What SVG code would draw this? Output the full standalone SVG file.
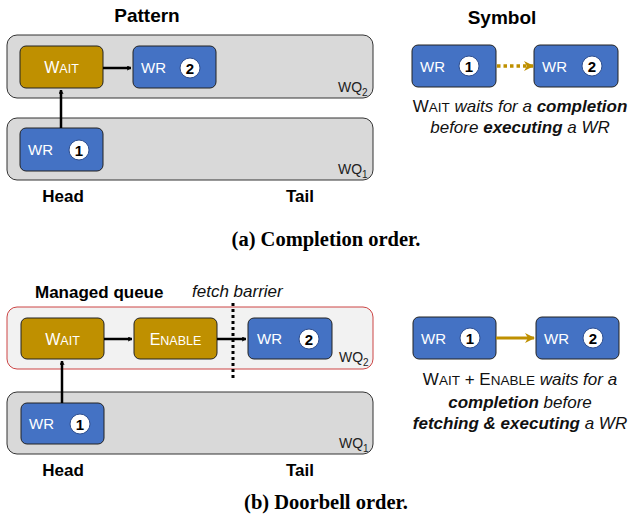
<svg xmlns="http://www.w3.org/2000/svg" width="630" height="519" viewBox="0 0 630 519">
<defs>
<marker id="ah" viewBox="0 0 10 10" refX="9" refY="5" markerWidth="5" markerHeight="5" orient="auto" markerUnits="userSpaceOnUse">
<path d="M1,1 L9,5 L1,9" fill="none" stroke="#000" stroke-width="2"/>
</marker>
<marker id="ahg" viewBox="0 0 10 10" refX="9" refY="5" markerWidth="10" markerHeight="12" orient="auto" markerUnits="userSpaceOnUse">
<path d="M0,0 L10,5 L0,10 L3,5 Z" fill="#bf9000"/>
</marker>
<style>
text{font-family:"Liberation Sans",Arial,sans-serif}
.q{fill:#d9d9d9;stroke:#333;stroke-width:1}
.qm{fill:#f2f2f2;stroke:#cc4444;stroke-width:1}
.wr{fill:#4472c4;stroke:#222;stroke-width:1}
.op{fill:#bf9000;stroke:#222;stroke-width:1}
.wt{fill:#fff;font-size:15px}
.cap{fill:#fff;font-size:16px;text-anchor:middle}
.num{fill:#fff;stroke:#2f4f8f;stroke-width:1}
.nt{font-weight:bold;font-size:15px;text-anchor:middle;fill:#000}
.title{font-weight:bold;font-size:17px;text-anchor:middle}
.big{font-size:19px}
.ql{font-size:14px;fill:#222}
.desc{font-size:17px;text-anchor:middle;fill:#111}
.capt{font-family:"Liberation Serif","Times New Roman",serif;font-weight:bold;font-size:20.5px;text-anchor:middle}
.ar{stroke:#000;stroke-width:2.5;fill:none}
</style>
</defs>

<!-- Panel (a) -->
<text class="title big" x="147" y="22">Pattern</text>
<g id="a-wq2"><rect class="q" x="7" y="35" width="366" height="63" rx="10"/><text class="ql" x="338" y="92">WQ<tspan font-size="10" dy="4">2</tspan></text></g>
<g id="a-wq1"><rect class="q" x="7" y="118" width="366" height="62" rx="10"/><text class="ql" x="338" y="174">WQ<tspan font-size="10" dy="4">1</tspan></text></g>
<g id="a-wait"><rect class="op" x="20" y="46" width="83" height="42" rx="6"/><text class="cap" x="61.5" y="73">W<tspan font-size="12.5">AIT</tspan></text></g>
<g id="a-wr2"><rect class="wr" x="133" y="46" width="83" height="42" rx="6"/><text class="wt" x="141" y="73">WR</text><circle class="num" cx="190" cy="68" r="10"/><text class="nt" x="190" y="73.5">2</text></g>
<g id="a-wr1"><rect class="wr" x="20" y="128" width="83" height="43" rx="6"/><text class="wt" x="28" y="155">WR</text><circle class="num" cx="79" cy="150" r="10"/><text class="nt" x="79" y="155.5">1</text></g>
<g id="a-conn">
<line class="ar" x1="103" y1="68" x2="131" y2="68" marker-end="url(#ah)"/>
<line class="ar" x1="61" y1="128" x2="61" y2="90" marker-end="url(#ah)"/>
</g>
<text class="title" x="63" y="202">Head</text>
<text class="title" x="300" y="202">Tail</text>

<text class="title big" x="502" y="24">Symbol</text>
<g id="a-s-wr1"><rect class="wr" x="412" y="45" width="84" height="42" rx="6"/><text class="wt" x="420" y="72">WR</text><circle class="num" cx="469" cy="66" r="10"/><text class="nt" x="469" y="71.5">1</text></g>
<g id="a-s-wr2"><rect class="wr" x="534" y="45" width="84" height="42" rx="6"/><text class="wt" x="542" y="72">WR</text><circle class="num" cx="592" cy="66" r="10"/><text class="nt" x="592" y="71.5">2</text></g>
<g id="a-s-conn"><line x1="497" y1="66" x2="533" y2="66" stroke="#bf9000" stroke-width="3.5" stroke-dasharray="3.5,3" marker-end="url(#ahg)"/></g>
<text class="desc" x="520" y="112">W<tspan font-size="13.5">AIT</tspan> <tspan font-style="italic">waits for a </tspan><tspan font-style="italic" font-weight="bold">completion</tspan></text>
<text class="desc" x="520" y="133"><tspan font-style="italic">before </tspan><tspan font-style="italic" font-weight="bold">executing</tspan><tspan font-style="italic"> a WR</tspan></text>

<text class="capt" x="326" y="246">(a) Completion order.</text>

<!-- Panel (b) -->
<text x="35" y="298" font-weight="bold" font-size="17">Managed queue</text>
<text x="192" y="297" font-style="italic" font-size="17" fill="#111">fetch barrier</text>
<g id="b-wq2"><rect class="qm" x="7" y="307" width="366" height="62" rx="10"/><text class="ql" x="339" y="362">WQ<tspan font-size="10" dy="4">2</tspan></text></g>
<g id="b-wq1"><rect class="q" x="7" y="392" width="366" height="62" rx="10"/><text class="ql" x="339" y="448">WQ<tspan font-size="10" dy="4">1</tspan></text></g>
<g id="b-wait"><rect class="op" x="21" y="318" width="83" height="41" rx="6"/><text class="cap" x="62.5" y="345">W<tspan font-size="12.5">AIT</tspan></text></g>
<g id="b-enable"><rect class="op" x="134" y="318" width="83" height="41" rx="6"/><text class="cap" x="175.5" y="345">E<tspan font-size="12.5">NABLE</tspan></text></g>
<g id="b-wr2"><rect class="wr" x="248" y="318" width="84" height="41" rx="6"/><text class="wt" x="257" y="344">WR</text><circle class="num" cx="309" cy="339" r="10"/><text class="nt" x="309" y="344.5">2</text></g>
<g id="b-wr1"><rect class="wr" x="21" y="403" width="83" height="41" rx="6"/><text class="wt" x="29" y="429">WR</text><circle class="num" cx="80" cy="424" r="10"/><text class="nt" x="80" y="429.5">1</text></g>
<g id="b-conn">
<line class="ar" x1="104" y1="339" x2="132" y2="339" marker-end="url(#ah)"/>
<line class="ar" x1="217" y1="339" x2="246" y2="339" marker-end="url(#ah)"/>
<line class="ar" x1="62" y1="403" x2="62" y2="361" marker-end="url(#ah)"/>
<line x1="233" y1="303" x2="233" y2="378" stroke="#000" stroke-width="3" stroke-dasharray="3,3"/>
</g>
<text class="title" x="63" y="476">Head</text>
<text class="title" x="300" y="476">Tail</text>

<g id="b-s-wr1"><rect class="wr" x="413" y="317" width="83" height="42" rx="6"/><text class="wt" x="421" y="344">WR</text><circle class="num" cx="470" cy="338" r="10"/><text class="nt" x="470" y="343.5">1</text></g>
<g id="b-s-wr2"><rect class="wr" x="536" y="317" width="83" height="42" rx="6"/><text class="wt" x="544" y="344">WR</text><circle class="num" cx="593" cy="338" r="10"/><text class="nt" x="593" y="343.5">2</text></g>
<g id="b-s-conn"><line x1="496" y1="338" x2="534" y2="338" stroke="#bf9000" stroke-width="3" marker-end="url(#ahg)"/></g>
<text class="desc" x="520" y="385">W<tspan font-size="13.5">AIT</tspan> + E<tspan font-size="13.5">NABLE</tspan> <tspan font-style="italic">waits for a</tspan></text>
<text class="desc" x="520" y="408"><tspan font-style="italic" font-weight="bold">completion</tspan><tspan font-style="italic"> before</tspan></text>
<text class="desc" x="520" y="429"><tspan font-style="italic" font-weight="bold">fetching &amp; executing</tspan><tspan font-style="italic"> a WR</tspan></text>

<text class="capt" x="326" y="509">(b) Doorbell order.</text>
</svg>
